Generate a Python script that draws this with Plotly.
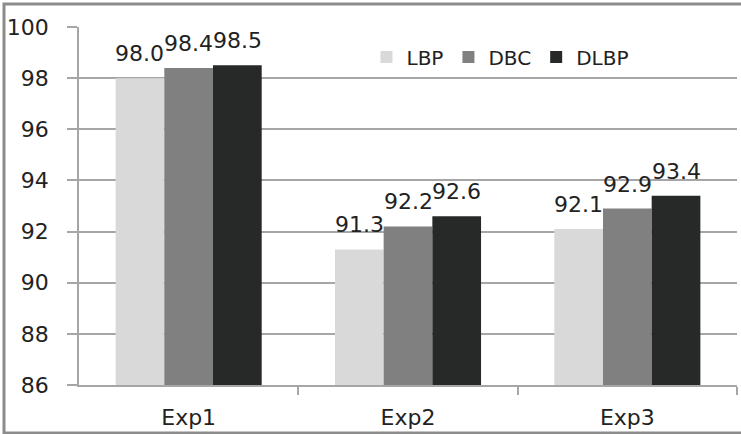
import plotly.graph_objects as go

# Recognition accuracy (%) per experiment and descriptor
categories = ["Exp1", "Exp2", "Exp3"]
series_names = ["LBP", "DBC", "DLBP"]
lbp_values = [98.0, 91.3, 92.1]
dbc_values = [98.4, 92.2, 92.9]
dlbp_values = [98.5, 92.6, 93.4]
y_ticks = [86, 88, 90, 92, 94, 96, 98, 100]

colors = ["#d9d9d9", "#808080", "#272929"]
series_values = [lbp_values, dbc_values, dlbp_values]

W, H = 741, 434
ML, MR, MT, MB = 79, 4, 27, 49
FONT = "DejaVu Sans"
TXT = "#222222"
GRID = "#a6a6a6"

# grouped bar geometry in category units
bar_w = 0.222
group_w = bar_w * len(series_names)
positions = list(range(len(categories)))
boundaries = [p + 0.5 for p in positions]

fig = go.Figure()
annotations = []
for k, (name, vals, col) in enumerate(zip(series_names, series_values, colors)):
    off = -group_w / 2 + k * bar_w
    fig.add_trace(go.Bar(
        x=positions, y=vals, name=name,
        width=bar_w, offset=off,
        marker=dict(color=col, line=dict(width=0)),
    ))
    for xi, v in zip(positions, vals):
        annotations.append(dict(
            x=xi + off + bar_w / 2, y=v, xref="x", yref="y",
            text=f"{v:.1f}", showarrow=False, yanchor="bottom",
            yshift=10, font=dict(family=FONT, size=22, color=TXT),
        ))

# outer frame helpers (pixel -> paper)
pw = W - ML - MR
ph = H - MT - MB
def px_x(p):
    return (p - ML) / pw
def px_y(p):
    return (H - MB - p) / ph

fig.update_layout(
    width=W, height=H,
    margin=dict(l=ML, r=MR, t=MT, b=MB),
    paper_bgcolor="white", plot_bgcolor="white",
    font=dict(family=FONT, size=22, color=TXT),
    barmode="overlay",
    showlegend=True,
    legend=dict(
        orientation="h", x=px_x(500), xanchor="center",
        y=px_y(57), yanchor="middle",
        font=dict(family=FONT, size=20, color=TXT),
        bgcolor="rgba(0,0,0,0)",
    ),
    annotations=annotations,
    shapes=[dict(
        type="rect", xref="paper", yref="paper",
        x0=px_x(4), x1=px_x(745), y0=px_y(433), y1=px_y(4),
        line=dict(color="#8c8c8c", width=3), layer="above",
    )],
)

fig.update_xaxes(
    range=[-0.5, len(categories) - 0.5],
    tickmode="array", tickvals=positions, ticktext=categories,
    showgrid=False, zeroline=False,
    showline=True, linecolor=GRID, linewidth=1.5,
    ticks="", ticklabelstandoff=12,
    tickfont=dict(family=FONT, size=22, color=TXT),
    minor=dict(tickmode="array", tickvals=boundaries, ticks="outside",
               ticklen=8, tickcolor=GRID, tickwidth=1.5, showgrid=False),
)

fig.update_yaxes(
    range=[86, 100], tickmode="array", tickvals=y_ticks,
    showgrid=True, gridcolor=GRID, gridwidth=1.5,
    zeroline=False, showline=True, linecolor=GRID, linewidth=1.5,
    ticks="outside", ticklen=10, tickcolor=GRID, tickwidth=1.5,
    ticklabelstandoff=14,
    tickfont=dict(family=FONT, size=22, color=TXT),
)

fig.write_html("out.html")
